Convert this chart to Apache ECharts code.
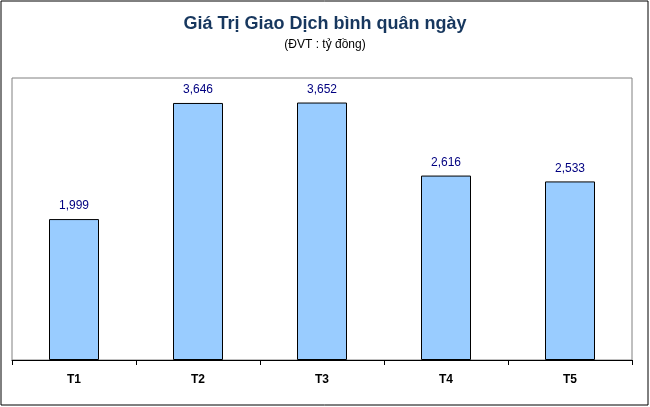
<!DOCTYPE html>
<html><head><meta charset="utf-8">
<script src="https://cdn.jsdelivr.net/npm/echarts@6/dist/echarts.min.js"></script>
<style>html,body{margin:0;padding:0;background:#fff}#c{width:650px;height:407px}</style>
</head><body><div id="c"></div>
<script>
var categories = ["T1", "T2", "T3", "T4", "T5"];
var values = [1999, 3646, 3652, 2616, 2533];

var chart = echarts.init(document.getElementById("c"));
chart.setOption({
    animation: false,
    title: {
        text: "Giá Trị Giao Dịch bình quân ngày",
        subtext: "(ĐVT : tỷ đồng)",
        left: "center",
        top: 10,
        itemGap: 6,
        textStyle: { fontFamily: "Arial", fontSize: 18, fontWeight: "bold", color: "#17375e" },
        subtextStyle: { fontFamily: "Arial", fontSize: 12, color: "#000" }
    },
    graphic: [{
        type: "rect",
        shape: { x: 1, y: 1, width: 647, height: 404 },
        style: { fill: null, stroke: "#000", lineWidth: 1 }
    }],
    grid: { left: 12, right: 18, top: 78, bottom: 47, show: true, borderColor: "#808080", borderWidth: 1 },
    xAxis: {
        type: "category",
        data: categories,
        axisLine: { lineStyle: { color: "#000" } },
        axisTick: { show: true, alignWithLabel: false, lineStyle: { color: "#000" } },
        axisLabel: { fontFamily: "Arial", fontSize: 12, fontWeight: "bold", color: "#000", margin: 14 }
    },
    yAxis: { type: "value", min: 0, max: 4000, show: false, splitLine: { show: false } },
    series: [{
        type: "bar",
        data: values,
        barWidth: 50,
        itemStyle: { color: "#99ccff", borderColor: "#000", borderWidth: 1 },
        label: {
            show: true, position: "top", distance: 7,
            fontFamily: "Arial", fontSize: 12, color: "#000080",
            formatter: function (p) { return p.value.toLocaleString("en-US"); }
        }
    }]
});
</script></body></html>
